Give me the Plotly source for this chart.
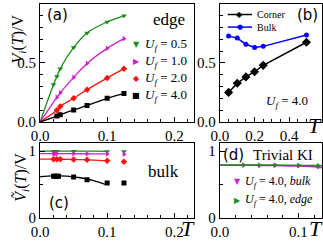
import plotly.graph_objects as go

W, H = 323, 245
def px(x): return x / W
def py(y): return 1 - y / H

GREEN = "#1a8c1a"
MAG = "#cc22cc"
RED = "#ff1111"
BLACK = "#000000"
BLUE = "#0000ff"
SERIF = "Liberation Serif"
SANS = "DejaVu Sans"

# ---------------- (a) edge ----------------
a_T_green = [0.02, 0.025, 0.03, 0.05, 0.07, 0.1, 0.125]
a_V_green = [0.317, 0.385, 0.451, 0.631, 0.754, 0.847, 0.899]
a_T_mag = [0.025, 0.03, 0.05, 0.07, 0.1, 0.125]
a_V_mag = [0.208, 0.246, 0.377, 0.495, 0.623, 0.705]
a_T_red = [0.025, 0.03, 0.05, 0.07, 0.1, 0.125]
a_V_red = [0.098, 0.131, 0.200, 0.273, 0.372, 0.451]
a_T_black = [0.025, 0.03, 0.05, 0.07, 0.1, 0.125]
a_V_black = [0.049, 0.060, 0.101, 0.139, 0.200, 0.240]
a_labels = ["0.5", "1.0", "2.0", "4.0"]

# ---------------- (b) corner / bulk ----------------
b_T = [0.05, 0.1, 0.15, 0.2, 0.25, 0.5]
b_corner = [0.25, 0.327, 0.381, 0.425, 0.479, 0.675]
b_bulk = [0.728, 0.71, 0.658, 0.63, 0.64, 0.736]

# ---------------- (c) bulk ----------------
c_T_green = [0.02, 0.0225, 0.025, 0.05, 0.1, 0.125]
c_V_green = [1.0, 1.0, 1.0, 1.0, 0.995, 0.995]
c_T_mag = [0.02, 0.0225, 0.025, 0.05, 0.07, 0.1, 0.125]
c_V_mag = [0.962, 0.962, 0.962, 0.962, 0.96, 0.958, 0.955]
c_T_red = [0.02, 0.025, 0.03, 0.05, 0.07, 0.1, 0.125]
c_V_red = [0.878, 0.878, 0.878, 0.875, 0.872, 0.855, 0.84]
c_T_black = [0.02, 0.0225, 0.025, 0.0275, 0.05, 0.07, 0.1, 0.125]
c_V_black = [0.622, 0.622, 0.622, 0.622, 0.61, 0.571, 0.522, 0.522]
# fitted curves
c_fit_T = [0.0, 0.02, 0.04, 0.06, 0.08, 0.1]
c_fit_green = [1.0, 1.0, 1.0, 1.0, 1.0, 0.998]
c_fit_mag = [0.963, 0.963, 0.962, 0.961, 0.96, 0.958]
c_fit_red = [0.88, 0.879, 0.877, 0.872, 0.865, 0.855]
c_fit_black_T = [0.0, 0.02, 0.04, 0.06, 0.08, 0.097]
c_fit_black = [0.615, 0.628, 0.625, 0.6, 0.555, 0.5]

# ---------------- (d) trivial KI ----------------
d_T = [0.03, 0.05, 0.07, 0.1, 0.125]
d_edge = [0.792, 0.791, 0.79, 0.787, 0.783]
d_bulk = [0.788, 0.786, 0.783, 0.778, 0.76]
d_line_T = [0.0, 0.03, 0.05, 0.07, 0.1, 0.125, 0.13]
d_line_edge = [0.792, 0.792, 0.791, 0.79, 0.787, 0.783, 0.782]
d_line_bulk = [0.788, 0.788, 0.786, 0.783, 0.776, 0.758, 0.75]

fig = go.Figure()

def line(x, y, color, xa, ya, shape="spline", width=1.3):
    fig.add_trace(go.Scatter(x=x, y=y, mode="lines", line=dict(color=color, width=width, shape=shape),
                             xaxis=xa, yaxis=ya, showlegend=False, hoverinfo="skip"))

def marks(x, y, color, symbol, xa, ya, size=6):
    fig.add_trace(go.Scatter(x=x, y=y, mode="markers", marker=dict(color=color, symbol=symbol, size=size),
                             xaxis=xa, yaxis=ya, showlegend=False))

# (a)
for T, V, col, sym in [(a_T_green, a_V_green, GREEN, "triangle-down"),
                       (a_T_mag, a_V_mag, MAG, "triangle-right"),
                       (a_T_red, a_V_red, RED, "diamond"),
                       (a_T_black, a_V_black, BLACK, "square")]:
    line([0.0] + T, [0.0] + V, col, "x", "y")
    marks(T, V, col, sym, "x", "y", size=5)

# (b)
fig.add_trace(go.Scatter(x=b_T, y=b_corner, mode="lines+markers", line=dict(color=BLACK, width=1.5),
                         marker=dict(symbol="diamond", size=7, color=BLACK), xaxis="x2", yaxis="y2", showlegend=False))
fig.add_trace(go.Scatter(x=b_T, y=b_bulk, mode="lines+markers", line=dict(color=BLUE, width=1.5),
                         marker=dict(symbol="circle", size=5, color=BLUE), xaxis="x2", yaxis="y2", showlegend=False))

# (c)
line(c_fit_T, c_fit_green, GREEN, "x3", "y3")
line(c_fit_T, c_fit_mag, MAG, "x3", "y3")
line(c_fit_T, c_fit_red, RED, "x3", "y3")
line(c_fit_black_T, c_fit_black, BLACK, "x3", "y3")
marks(c_T_green, c_V_green, GREEN, "triangle-down", "x3", "y3", 5)
marks(c_T_mag, c_V_mag, MAG, "triangle-right", "x3", "y3", 5)
marks(c_T_red, c_V_red, RED, "diamond", "x3", "y3", 5)
marks(c_T_black, c_V_black, BLACK, "square", "x3", "y3", 5)

# (d)
line(d_line_T, d_line_bulk, MAG, "x4", "y4", width=1.5)
line(d_line_T, d_line_edge, GREEN, "x4", "y4", width=1.5)
marks(d_T, d_bulk, MAG, "triangle-down", "x4", "y4", 5)
marks(d_T, d_edge, GREEN, "triangle-right", "x4", "y4", 5)

def axis(domain, rng, dtick, mdtick, fmt, anchor):
    return dict(domain=domain, range=rng, tick0=0, dtick=dtick, tickformat=fmt, anchor=anchor,
                ticks="inside", ticklen=5, tickwidth=1, tickcolor="black",
                minor=dict(dtick=mdtick, tick0=0, ticks="inside", ticklen=3, tickcolor="black", showgrid=False),
                showline=True, linecolor="black", linewidth=1.3, mirror=True,
                showgrid=False, zeroline=False,
                tickfont=dict(family=SERIF, size=15, color="black"))

top_dom = [py(126), py(4)]
bot_dom = [py(225), py(148)]
left_dom = [px(32), px(190)]
right_dom = [px(217), px(322)]

fig.update_layout(
    width=W, height=H, margin=dict(l=0, r=0, t=0, b=0),
    paper_bgcolor="white", plot_bgcolor="white", showlegend=False,
    xaxis=axis(left_dom, [0, 0.229], 0.1, 0.02, ".1f", "y"),
    yaxis=axis(top_dom, [0, 1.0], 0.5, 0.1, ".1f", "x"),
    xaxis2=axis(right_dom, [0, 0.59], 0.2, 0.05, ".1f", "y2"),
    yaxis2=axis(top_dom, [0, 1.0], 0.5, 0.1, ".1f", "x2"),
    xaxis3=axis(left_dom, [0, 0.229], 0.1, 0.02, ".1f", "y3"),
    yaxis3=axis(bot_dom, [0, 1.12], 1, 0.5, "d", "x3"),
    xaxis4=axis(right_dom, [0, 0.13], 0.1, 0.02, ".1f", "y4"),
    yaxis4=axis(bot_dom, [0, 1.12], 1, 0.5, "d", "x4"),
)

ann = []
def text(x, y, s, size, family=SERIF, color="black", xanchor="center", angle=0):
    ann.append(dict(x=px(x), y=py(y), xref="paper", yref="paper", text=s, showarrow=False,
                    xanchor=xanchor, yanchor="middle", textangle=angle,
                    font=dict(family=family, size=size, color=color)))

Uf = "<i>U</i><sub><i>f</i></sub>"
# panel labels
text(50, 15, "(a)", 15, SANS)
text(307, 15, "(b)", 15, SANS)
text(51, 210, "(c)", 15, SANS)
text(231, 160, "(d)", 15, SANS)
text(165, 20, "edge", 17)
text(159, 177, "bulk", 17)
text(282, 160, "Trivial KI", 15)
# legend (a)
for yy, col, glyph, lab in [(46, GREEN, "▼", a_labels[0]), (64, MAG, "▶", a_labels[1]),
                            (81, RED, "◆", a_labels[2]), (99, BLACK, "■", a_labels[3])]:
    text(131, yy, glyph, 8, SANS, col)
    text(138, yy, f"{Uf} = {lab}", 13, xanchor="left")
# legend (b)
fig.add_shape(type="line", xref="paper", yref="paper", x0=px(225), x1=px(250), y0=py(15), y1=py(15),
              line=dict(color=BLACK, width=1.5))
fig.add_shape(type="line", xref="paper", yref="paper", x0=px(225), x1=px(250), y0=py(28), y1=py(28),
              line=dict(color=BLUE, width=1.5))
text(237.5, 15, "◆", 8, SANS, BLACK)
text(237.5, 28, "●", 7, SANS, BLUE)
text(253, 15, "Corner", 10, xanchor="left")
text(253, 28, "Bulk", 10, xanchor="left")
text(286, 105, f"{Uf} = 4.0", 13)
# legend (d)
text(235, 188, "▼", 8, SANS, MAG)
text(241, 188, f"{Uf} = 4.0, <i>bulk</i>", 12, xanchor="left")
text(235, 207, "▶", 8, SANS, GREEN)
text(241, 207, f"{Uf} = 4.0, <i>edge</i>", 12, xanchor="left")
# axis titles
text(10, 40, "<i>V</i><sub><i>i</i></sub>(<i>T</i>)/V", 16, angle=-90)
text(12, 183, "<i>V\u0303</i><sub><i>i</i></sub>(<i>T</i>)/V", 16, angle=-90)
text(315, 130, "<i>T</i>", 22)
text(184, 236, "<i>T</i>", 22)
text(316, 236, "<i>T</i>", 22)

fig.update_layout(annotations=ann)
fig.write_html("out.html", config={"displayModeBar": False},
               post_script="document.body.style.margin='0';document.body.style.overflow='hidden';")
